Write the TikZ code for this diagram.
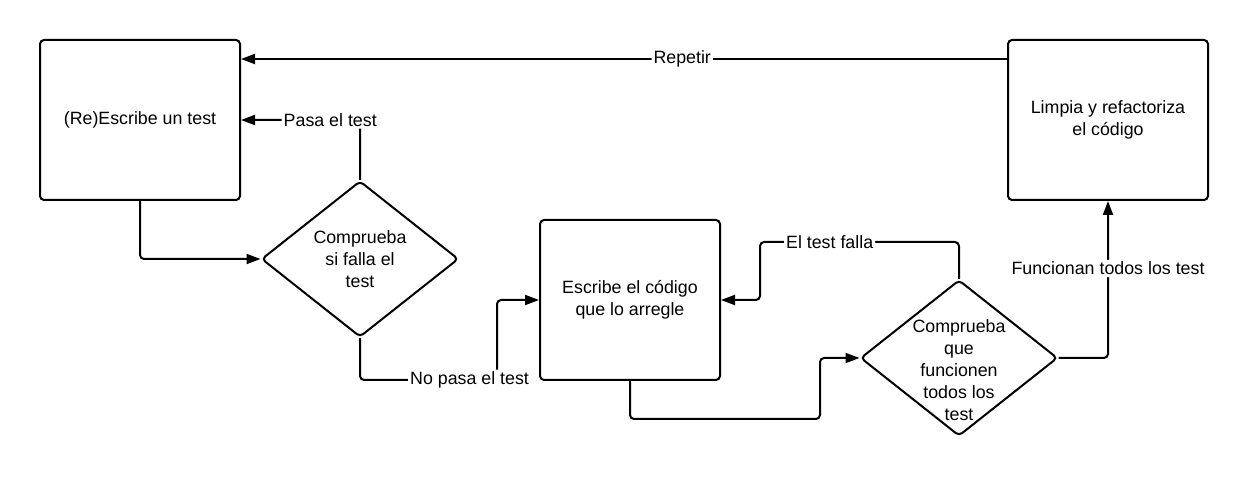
\documentclass[tikz,border=0pt]{standalone}
\usepackage{fontspec}
\setmainfont{Liberation Sans}
\usetikzlibrary{arrows.meta,shapes.geometric}

\begin{document}
\begin{tikzpicture}[x=0.5pt,y=-0.5pt,-{Triangle[length=7pt,width=5pt]},line width=1pt,rounded corners=2pt,font=\fontsize{8.9}{11}\selectfont]
  \tikzstyle{block}=[draw,rectangle,minimum width=100pt,minimum height=80pt,align=center]
  \tikzstyle{decision}=[draw,diamond,minimum width=98.5pt,minimum height=78pt,inner sep=0pt]
  \tikzstyle{lbl}=[fill=white,inner sep=1pt]

  \useasboundingbox (0,0) rectangle (1248,480);

  \node[block]                   (write)       at (140,120)  {(Re)Escribe un test};
  \node[decision]                (fails)       at (360,259)  {};
  \node[align=center]            (failstext)   at (fails)    {Comprueba\\si falla el\\test};
  \node[block,minimum width=90pt] (code)       at (630,300)  {Escribe el código\\que lo arregle};
  \node[decision]                (passes)      at (959,358)  {};
  \node[align=center,yshift=-6pt] (passestext) at (passes)   {Comprueba\\que\\funcionen\\todos los\\test};
  \node[block]                   (clean)       at (1108,120) {Limpia y refactoriza\\el código};

  % bends
  \coordinate (b1) at (497,380);
  \coordinate (b2) at (760,242);
  \coordinate (b3) at (820,419);

  \draw (write.south) |- (fails.west);
  \draw (fails.north) |- node[lbl,pos=0.625] {Pasa el test} (write.east);
  \draw (fails.south) |- node[lbl,pos=0.9] {No pasa el test} (b1) |- (code.west);
  \draw (passes.north) |- node[lbl,pos=0.825] {El test falla} (b2) |- (code.east);
  \draw (code.south) |- (b3) |- (passes.west);
  \draw (passes.east) -| node[lbl,pos=0.785] {Funcionan todos los test} (clean.south);
  \draw ([yshift=-10pt]clean.north west) -- node[lbl,pos=0.424] {Repetir} ([yshift=-10pt]write.north east);
\end{tikzpicture}
\end{document}
